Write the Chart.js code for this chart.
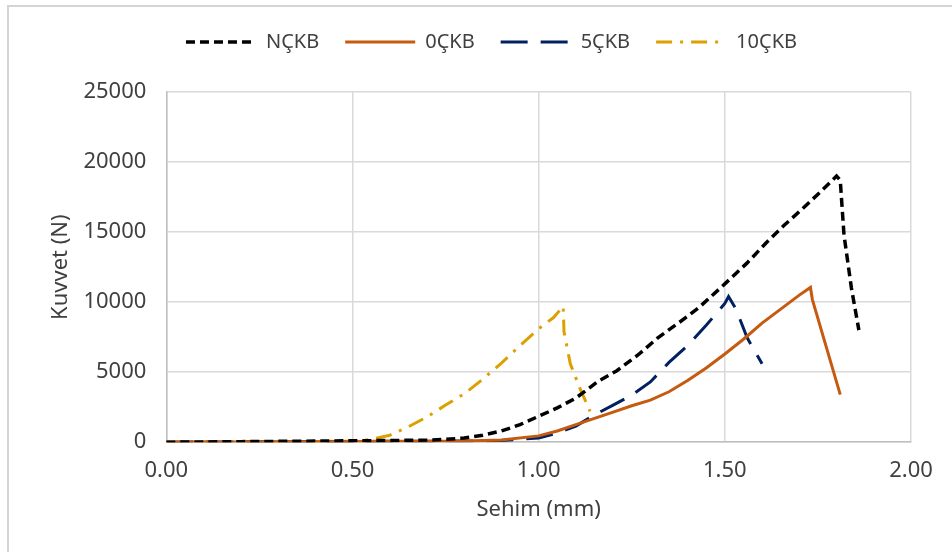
<!DOCTYPE html>
<html>
<head>
<meta charset="utf-8">
<script src="https://cdn.jsdelivr.net/npm/chart.js@4/dist/chart.umd.min.js"></script>
<style>
  body { margin: 0; background: #fff; }
  #wrap { position: relative; width: 952px; height: 552px; overflow: hidden; }
  #frame { position: absolute; left: 7px; top: 5px; width: 1000px; height: 600px; border: 2px solid #d4d4d4; }
  canvas { position: absolute; left: 0; top: 0; }
</style>
</head>
<body>
<div id="wrap">
  <div id="frame"></div>
  <canvas id="chart" width="952" height="552"></canvas>
</div>
<script>
// Sehim (mm) / Kuvvet (N)
const nckbX = [0, 0.1, 0.2, 0.3, 0.4, 0.5, 0.6, 0.7, 0.75, 0.8, 0.85, 0.9, 0.95, 1.0, 1.05, 1.1, 1.16, 1.21, 1.27, 1.32, 1.38, 1.43, 1.5, 1.56, 1.61, 1.66, 1.71, 1.75, 1.80, 1.81, 1.82, 1.84, 1.86];
const nckbY = [0, 20, 40, 60, 80, 100, 120, 150, 200, 300, 500, 800, 1250, 1850, 2450, 3150, 4350, 5100, 6300, 7450, 8600, 9600, 11300, 12800, 14200, 15500, 16700, 17700, 19000, 18700, 14800, 11000, 8000];

const ockbX = [0, 0.1, 0.2, 0.3, 0.4, 0.5, 0.6, 0.7, 0.8, 0.9, 1.0, 1.05, 1.1, 1.15, 1.2, 1.25, 1.3, 1.35, 1.4, 1.45, 1.5, 1.55, 1.6, 1.65, 1.7, 1.73, 1.735, 1.81];
const ockbY = [0, 10, 20, 30, 40, 50, 60, 70, 80, 150, 450, 800, 1250, 1700, 2150, 2600, 3000, 3600, 4400, 5300, 6300, 7350, 8500, 9500, 10500, 11050, 10200, 3400];

const fckbX = [0, 0.1, 0.2, 0.3, 0.4, 0.5, 0.6, 0.7, 0.8, 0.9, 1.0, 1.05, 1.1, 1.15, 1.2, 1.25, 1.3, 1.35, 1.4, 1.45, 1.5, 1.51, 1.53, 1.56, 1.6];
const fckbY = [0, 15, 25, 35, 45, 55, 65, 75, 85, 120, 300, 650, 1150, 1950, 2650, 3350, 4300, 5700, 6900, 8350, 9900, 10400, 9500, 7450, 5600];

const tckbX = [0, 0.1, 0.2, 0.3, 0.4, 0.5, 0.55, 0.6, 0.65, 0.7, 0.75, 0.8, 0.85, 0.9, 0.95, 1.0, 1.04, 1.066, 1.068, 1.085, 1.11, 1.138];
const tckbY = [0, 20, 30, 40, 50, 80, 200, 500, 1100, 1800, 2650, 3450, 4500, 5650, 6900, 8100, 8900, 9700, 7900, 5600, 3900, 2200];

const seriesNames = ['NÇKB', '0ÇKB', '5ÇKB', '10ÇKB'];
const xTicks = [0, 0.5, 1.0, 1.5, 2.0];
const yTicks = [0, 5000, 10000, 15000, 20000, 25000];

function pts(xs, ys) {
    return xs.map((x, i) => ({x: x, y: ys[i]}));
}

const textColor = '#404040';
const font = {family: "'Noto Sans', sans-serif", size: 22};

// move the legend to where the original has it
const legendShift = {
    id: 'legendShift',
    afterLayout(chart) {
        const lg = chart.legend;
        lg.left += 16; lg.right += 16;
        lg.top -= 30; lg.bottom -= 30;
    }
};

new Chart(document.getElementById('chart'), {
    type: 'scatter',
    data: {
        datasets: [
            {label: seriesNames[0], data: pts(nckbX, nckbY), borderColor: '#000000', backgroundColor: '#000000', borderDash: [9, 5], borderWidth: 3.5},
            {label: seriesNames[1], data: pts(ockbX, ockbY), borderColor: '#C55A11', backgroundColor: '#C55A11', borderDash: [], borderWidth: 3},
            {label: seriesNames[2], data: pts(fckbX, fckbY), borderColor: '#002060', backgroundColor: '#002060', borderDash: [27, 13], borderWidth: 3},
            {label: seriesNames[3], data: pts(tckbX, tckbY), borderColor: '#DCA000', backgroundColor: '#DCA000', borderDash: [16, 8, 3, 8], borderWidth: 3}
        ]
    },
    options: {
        responsive: false,
        animation: false,
        showLine: true,
        elements: {point: {radius: 0, hoverRadius: 0}, line: {tension: 0}},
        layout: {padding: {left: 40, right: 41, top: 36, bottom: 29}},
        plugins: {
            legend: {
                position: 'top',
                labels: {
                    usePointStyle: true,
                    pointStyle: 'line',
                    pointStyleWidth: 70,
                    padding: 26,
                    color: textColor,
                    font: {family: font.family, size: 20},
                    generateLabels(chart) {
                        const items = Chart.defaults.plugins.legend.labels.generateLabels(chart);
                        items.forEach((item, i) => {
                            const ds = chart.data.datasets[i];
                            item.lineDash = ds.borderDash;
                            item.lineWidth = ds.borderWidth;
                            item.strokeStyle = ds.borderColor;
                        });
                        return items;
                    }
                }
            },
            tooltip: {enabled: false}
        },
        scales: {
            x: {
                type: 'linear',
                min: 0,
                max: 2,
                afterBuildTicks: (axis) => { axis.ticks = xTicks.map(v => ({value: v})); },
                ticks: {color: textColor, font: font, padding: 15, callback: (v) => v.toFixed(2)},
                grid: {color: '#d9d9d9', lineWidth: 1.5, drawTicks: false},
                border: {color: '#bfbfbf', width: 1.5},
                title: {display: true, text: 'Sehim (mm)', color: textColor, font: font, padding: {top: -2, bottom: 0}}
            },
            y: {
                min: 0,
                max: 25000,
                afterBuildTicks: (axis) => { axis.ticks = yTicks.map(v => ({value: v})); },
                ticks: {color: textColor, font: font, padding: 20, callback: (v) => String(v)},
                grid: {color: '#d9d9d9', lineWidth: 1.5, drawTicks: false},
                border: {color: '#bfbfbf', width: 1.5},
                title: {display: true, text: 'Kuvvet (N)', color: textColor, font: font, padding: {top: 8, bottom: -11}}
            }
        }
    },
    plugins: [legendShift]
});
</script>
</body>
</html>
